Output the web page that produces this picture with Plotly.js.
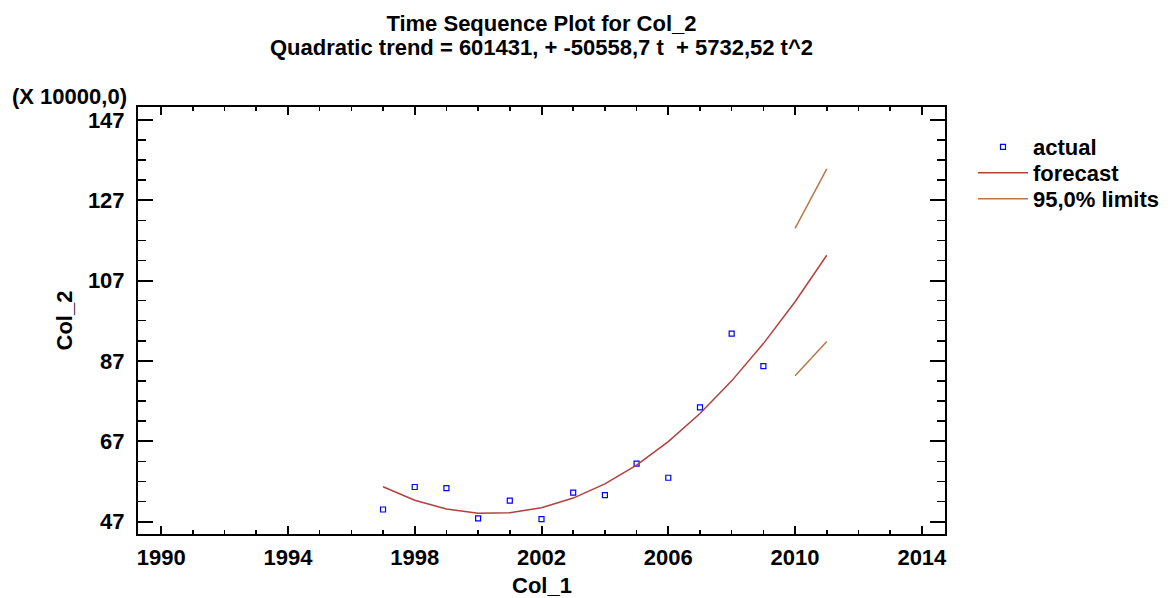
<!DOCTYPE html>
<html>
<head>
<meta charset="utf-8">
<script src="https://cdn.plot.ly/plotly-3.0.1.min.js"></script>
<style>html,body{margin:0;padding:0;background:#fff;}#chart{width:1172px;height:598px;}</style>
</head>
<body>
<div id="chart"></div>
<script>
// Data (values in units of 10000)
var actualYears = [1997, 1998, 1999, 2000, 2001, 2002, 2003, 2004, 2005, 2006, 2007, 2008, 2009];
var actualValues = [50.0, 55.6, 55.3, 47.8, 52.2, 47.6, 54.2, 53.6, 61.4, 57.9, 75.4, 93.8, 85.7];
var forecastYears = [1997, 1998, 1999, 2000, 2001, 2002, 2003, 2004, 2005, 2006, 2007, 2008, 2009, 2010, 2011];
var forecastValues = [55.66, 52.32, 50.13, 49.09, 49.20, 50.45, 52.84, 56.38, 61.07, 66.91, 73.89, 82.02, 91.30, 101.72, 113.29];
var limitYears = [2010, 2011];
var upperLimits = [120.0, 134.8];
var lowerLimits = [83.3, 91.8];
var xTickVals = [1990, 1994, 1998, 2002, 2006, 2010, 2014];
var yTickVals = [47, 67, 87, 107, 127, 147];

var FONT = 'Liberation Sans, Arial, sans-serif';
var fnt = function(sz){ return {family: FONT, size: sz, color: '#000', weight: 'bold'}; };

var traces = [
  {
    x: actualYears, y: actualValues, type: 'scatter', mode: 'markers', name: 'actual', legend: 'legend',
    marker: {symbol: 'square-open', size: 5, color: '#0000FF', line: {width: 1.2, color: '#0000FF'}}
  },
  {
    x: forecastYears, y: forecastValues, type: 'scatter', mode: 'lines', name: 'forecast', legend: 'legend2',
    line: {color: '#B4403E', width: 1.5}
  },
  {
    x: limitYears.concat([null], limitYears),
    y: upperLimits.concat([null], lowerLimits),
    type: 'scatter', mode: 'lines', name: '95,0% limits', connectgaps: false, legend: 'legend3',
    line: {color: '#B8774A', width: 1.5}
  }
];

// plot area in pixels: x 138..945, y 107..534
var PX = function(px){ return (px - 138) / 807; };
var PY = function(py){ return 1 - (py - 107) / 427; };
var legendAt = function(rowY){
  return {x: PX(973), xanchor: 'left', y: PY(rowY), yanchor: 'middle',
          font: fnt(22), bgcolor: 'rgba(0,0,0,0)', borderwidth: 0, itemwidth: 50};
};

var layout = {
  width: 1172, height: 598,
  paper_bgcolor: '#fff', plot_bgcolor: '#fff',
  margin: {l: 138, r: 227, t: 107, b: 64, pad: 0, autoexpand: false},
  font: fnt(22),
  showlegend: true,
  title: {
    text: 'Time Sequence Plot for Col_2',
    font: fnt(22), x: 0.462, xanchor: 'center',
    xref: 'container', yref: 'container', y: 1 - 23.5/598, yanchor: 'middle'
  },
  annotations: [
    {text: 'Quadratic trend = 601431, + -50558,7 t \u00A0+ 5732,52 t^2', xref: 'paper', yref: 'paper',
     x: 0.5, y: PY(47.5), xanchor: 'center', yanchor: 'middle', showarrow: false, font: fnt(22)},
    {text: '(X 10000,0)', xref: 'paper', yref: 'paper',
     x: PX(10), y: PY(97), xanchor: 'left', yanchor: 'middle', showarrow: false, font: fnt(22)},
    {text: 'Col_1', xref: 'paper', yref: 'paper',
     x: 0.5, y: PY(585), xanchor: 'center', yanchor: 'middle', showarrow: false, font: fnt(22)},
    {text: 'Col_2', xref: 'paper', yref: 'paper', textangle: -90,
     x: PX(64), y: 0.5, xanchor: 'center', yanchor: 'middle', showarrow: false, font: fnt(22)}
  ],
  xaxis: {
    range: [1989.27, 2014.73], tickvals: xTickVals, ticktext: xTickVals.map(String),
    ticks: 'inside', ticklen: 8, tickwidth: 2, tickcolor: '#000',
    minor: {dtick: 1, tick0: 1990, ticks: 'inside', ticklen: 4, tickwidth: 1.5, tickcolor: '#000', showgrid: false},
    showline: true, linecolor: '#000', linewidth: 2, mirror: 'ticks',
    showgrid: false, zeroline: false, tickfont: fnt(22), ticklabelstandoff: 3
  },
  yaxis: {
    range: [43.9, 150.2], tickvals: yTickVals, ticktext: yTickVals.map(String),
    ticks: 'inside', ticklen: 15, tickwidth: 2, tickcolor: '#000',
    minor: {dtick: 5, tick0: 47, ticks: 'inside', ticklen: 8, tickwidth: 1.5, tickcolor: '#000', showgrid: false},
    showline: true, linecolor: '#000', linewidth: 2, mirror: 'ticks',
    showgrid: false, zeroline: false, tickfont: fnt(22), ticklabelstandoff: 7
  },
  legend: legendAt(147),
  legend2: legendAt(173),
  legend3: legendAt(199)
};

Plotly.newPlot('chart', traces, layout, {staticPlot: true, displayModeBar: false});
</script>
</body>
</html>
